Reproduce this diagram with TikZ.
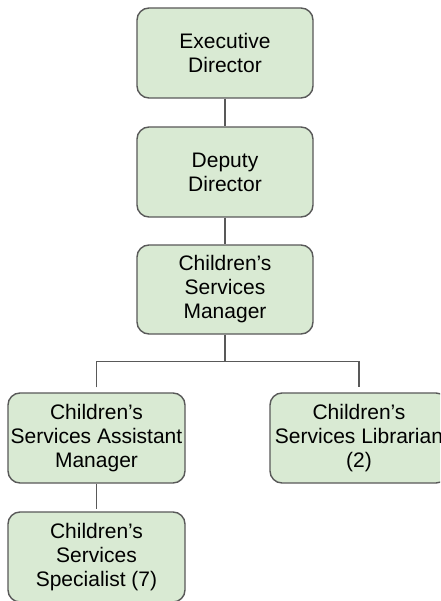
\documentclass[tikz,border=0pt]{standalone}
\usepackage{fontspec}
\setmainfont{Liberation Sans}
\usetikzlibrary{calc}
\definecolor{boxfill}{HTML}{D9EAD3}
\definecolor{linegray}{HTML}{595959}
\tikzset{
  orgbox/.style={draw=linegray, line width=1.4pt, fill=boxfill, rounded corners=12pt,
    minimum width=176pt, minimum height=90pt, inner sep=0pt, align=center,
    font=\fontsize{21}{24}\selectfont, text=black},
  conn/.style={draw=linegray, line width=1.4pt}
}
\begin{document}
\begin{tikzpicture}[x=1pt,y=-1pt]
\useasboundingbox (0,0) rectangle (440,601);
\clip (0,0) rectangle (440,601);
\fill[white] (0,0) rectangle (440,601);
\node[orgbox] (exec) at (225,53) {Executive\\Director};
\node[orgbox] (dep) at (225,172) {Deputy\\Director};
\node[orgbox, minimum height=89pt] (csm) at (225,289.5) {Children’s\\Services\\Manager};
\node[orgbox, minimum width=177pt] (asst) at (96.5,438) {Children’s\\Services Assistant\\Manager};
\node[orgbox, minimum width=178pt] (lib) at (359,438) {Children’s\\Services Librarian\\(2)};
\node[orgbox, minimum width=177pt] (spec) at (96.5,557) {Children’s\\Services\\Specialist (7)};
\draw[conn] (exec.south) -- (dep.north);
\draw[conn] (dep.south) -- (csm.north);
\draw[conn] (csm.south) -- ++(0,27) coordinate (br);
\draw[conn] ([yshift=5pt]asst.north) |- (br) -| ([yshift=5pt]lib.north);
\draw[conn, shorten >=2pt] (asst.south) -- (spec.north);
\end{tikzpicture}
\end{document}
